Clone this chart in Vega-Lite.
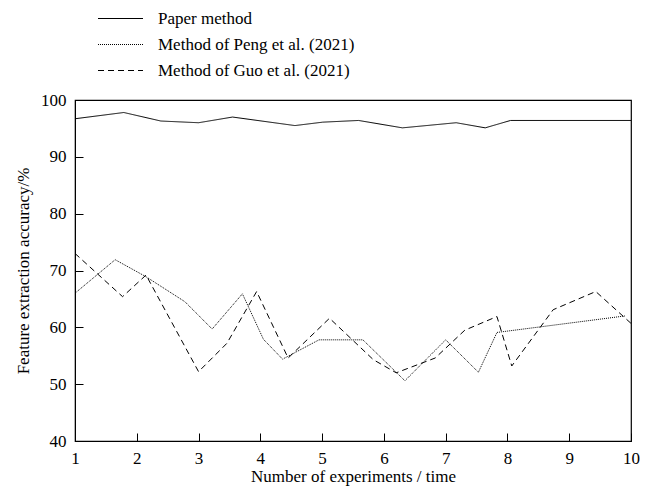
{
  "$schema": "https://vega.github.io/schema/vega-lite/v6.json",
  "autosize": {"type": "none"},
  "width": 556,
  "height": 341,
  "padding": {"left": 75, "top": 100, "right": 19, "bottom": 45},
  "background": "white",
  "config": {
    "font": "Liberation Serif",
    "view": {"stroke": "black", "strokeWidth": 1.2},
    "axis": {"labelFont": "Liberation Serif", "titleFont": "Liberation Serif", "labelColor": "black", "titleColor": "black", "domainColor": "black", "tickColor": "black", "grid": false, "labelFontSize": 17, "titleFontSize": 17, "titleFontWeight": "normal"}
  },
  "data": {"values": [
    {"x": 1.0, "y": 96.7, "method": "Paper method"},
    {"x": 1.79, "y": 97.8, "method": "Paper method"},
    {"x": 2.39, "y": 96.3, "method": "Paper method"},
    {"x": 3.0, "y": 96.0, "method": "Paper method"},
    {"x": 3.55, "y": 97.0, "method": "Paper method"},
    {"x": 4.56, "y": 95.5, "method": "Paper method"},
    {"x": 5.01, "y": 96.1, "method": "Paper method"},
    {"x": 5.59, "y": 96.4, "method": "Paper method"},
    {"x": 6.3, "y": 95.1, "method": "Paper method"},
    {"x": 7.17, "y": 96.0, "method": "Paper method"},
    {"x": 7.64, "y": 95.1, "method": "Paper method"},
    {"x": 8.05, "y": 96.4, "method": "Paper method"},
    {"x": 10.0, "y": 96.4, "method": "Paper method"},

    {"x": 1.0, "y": 66.0, "method": "Method of Peng et al. (2021)"},
    {"x": 1.65, "y": 71.9, "method": "Method of Peng et al. (2021)"},
    {"x": 2.15, "y": 68.9, "method": "Method of Peng et al. (2021)"},
    {"x": 2.78, "y": 64.5, "method": "Method of Peng et al. (2021)"},
    {"x": 3.22, "y": 59.7, "method": "Method of Peng et al. (2021)"},
    {"x": 3.71, "y": 65.9, "method": "Method of Peng et al. (2021)"},
    {"x": 4.05, "y": 57.9, "method": "Method of Peng et al. (2021)"},
    {"x": 4.36, "y": 54.4, "method": "Method of Peng et al. (2021)"},
    {"x": 4.95, "y": 57.8, "method": "Method of Peng et al. (2021)"},
    {"x": 5.66, "y": 57.8, "method": "Method of Peng et al. (2021)"},
    {"x": 6.34, "y": 50.6, "method": "Method of Peng et al. (2021)"},
    {"x": 7.0, "y": 57.8, "method": "Method of Peng et al. (2021)"},
    {"x": 7.53, "y": 52.1, "method": "Method of Peng et al. (2021)"},
    {"x": 7.83, "y": 59.1, "method": "Method of Peng et al. (2021)"},
    {"x": 9.9, "y": 62.0, "method": "Method of Peng et al. (2021)"},

    {"x": 1.0, "y": 73.0, "method": "Method of Guo et al. (2021)"},
    {"x": 1.77, "y": 65.4, "method": "Method of Guo et al. (2021)"},
    {"x": 2.15, "y": 69.2, "method": "Method of Guo et al. (2021)"},
    {"x": 3.0, "y": 52.2, "method": "Method of Guo et al. (2021)"},
    {"x": 3.46, "y": 57.2, "method": "Method of Guo et al. (2021)"},
    {"x": 3.94, "y": 66.3, "method": "Method of Guo et al. (2021)"},
    {"x": 4.45, "y": 54.6, "method": "Method of Guo et al. (2021)"},
    {"x": 5.12, "y": 61.6, "method": "Method of Guo et al. (2021)"},
    {"x": 5.83, "y": 54.3, "method": "Method of Guo et al. (2021)"},
    {"x": 6.2, "y": 52.0, "method": "Method of Guo et al. (2021)"},
    {"x": 6.83, "y": 54.6, "method": "Method of Guo et al. (2021)"},
    {"x": 7.31, "y": 59.5, "method": "Method of Guo et al. (2021)"},
    {"x": 7.83, "y": 61.9, "method": "Method of Guo et al. (2021)"},
    {"x": 8.07, "y": 53.2, "method": "Method of Guo et al. (2021)"},
    {"x": 8.74, "y": 63.1, "method": "Method of Guo et al. (2021)"},
    {"x": 9.43, "y": 66.3, "method": "Method of Guo et al. (2021)"},
    {"x": 10.0, "y": 60.7, "method": "Method of Guo et al. (2021)"}
  ]},
  "mark": {"type": "line", "strokeWidth": 1, "color": "black", "clip": true},
  "encoding": {
    "x": {"field": "x", "type": "quantitative", "scale": {"domain": [1, 10], "nice": false, "zero": false},
      "axis": {"title": "Number of experiments / time", "values": [1,2,3,4,5,6,7,8,9,10], "tickSize": -8, "labelPadding": 17, "titlePadding": 2, "format": "d", "labelFlush": false}},
    "y": {"field": "y", "type": "quantitative", "scale": {"domain": [40, 100], "nice": false, "zero": false},
      "axis": {"title": "Feature extraction accuracy/%", "values": [40,50,60,70,80,90,100], "tickSize": -8, "labelPadding": 17, "titlePadding": 8, "labelFlush": false}},
    "strokeDash": {"field": "method", "type": "nominal",
      "scale": {"domain": ["Paper method", "Method of Peng et al. (2021)", "Method of Guo et al. (2021)"], "range": [[1, 0], [1, 1], [6, 4]]},
      "legend": {"title": null, "orient": "none", "legendX": 36, "legendY": -91, "symbolType": "M-2.5,0H2.5", "symbolSize": 324, "symbolStrokeColor": "black", "symbolStrokeWidth": 1, "labelFont": "Liberation Serif", "labelFontSize": 17, "labelColor": "black", "labelOffset": 28, "rowPadding": 8, "labelLimit": 400}}
  }
}
